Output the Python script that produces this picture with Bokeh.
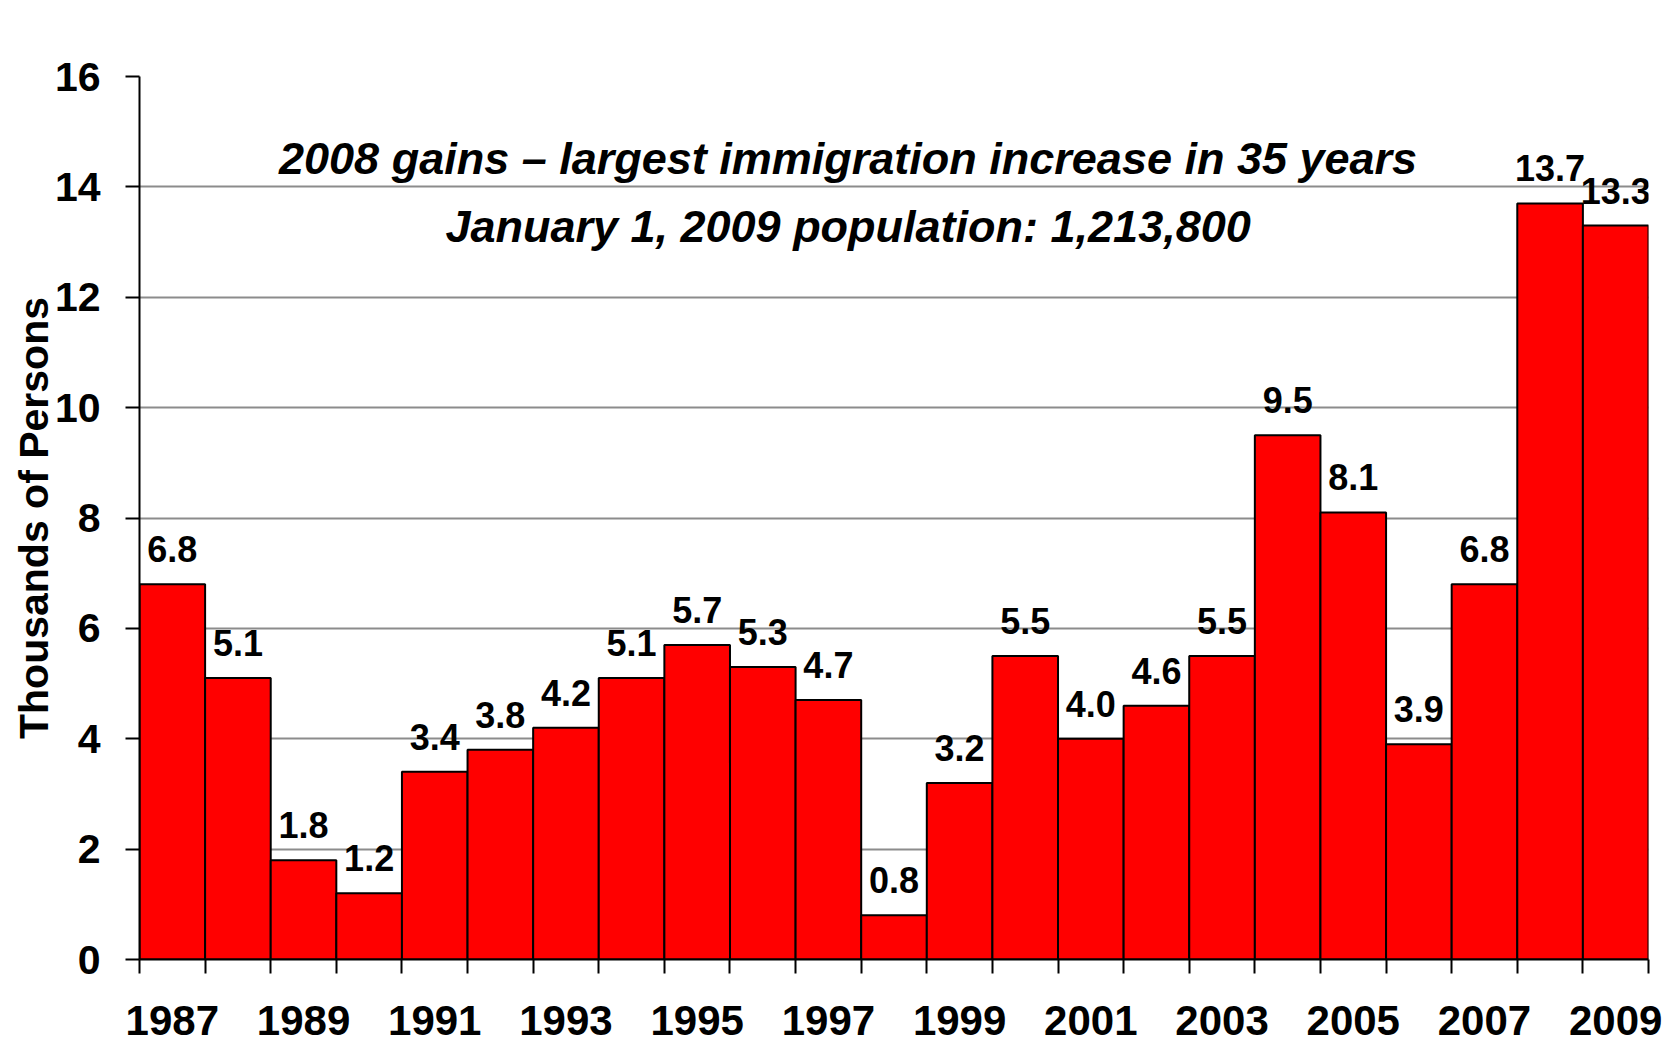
from bokeh.plotting import figure
from bokeh.models import Range1d, FixedTicker, ColumnDataSource, Label
from bokeh.core.properties import value
from bokeh.embed import file_html
from bokeh.resources import INLINE

# ---- data ----
years = [1987, 1988, 1989, 1990, 1991, 1992, 1993, 1994, 1995, 1996, 1997, 1998,
         1999, 2000, 2001, 2002, 2003, 2004, 2005, 2006, 2007, 2008, 2009]
gains = [6.8, 5.1, 1.8, 1.2, 3.4, 3.8, 4.2, 5.1, 5.7, 5.3, 4.7, 0.8,
         3.2, 5.5, 4.0, 4.6, 5.5, 9.5, 8.1, 3.9, 6.8, 13.7, 13.3]
bar_labels = ["6.8", "5.1", "1.8", "1.2", "3.4", "3.8", "4.2", "5.1", "5.7", "5.3", "4.7", "0.8",
              "3.2", "5.5", "4.0", "4.6", "5.5", "9.5", "8.1", "3.9", "6.8", "13.7", "13.3"]
tick_years = [1987, 1989, 1991, 1993, 1995, 1997, 1999, 2001, 2003, 2005, 2007, 2009]
tick_labels = ["1987", "1989", "1991", "1993", "1995", "1997", "1999", "2001", "2003", "2005", "2007", "2009"]
y_ticks = [0, 2, 4, 6, 8, 10, 12, 14, 16]
title_line1 = "2008 gains \u2013 largest immigration increase in 35 years"
title_line2 = "January 1, 2009 population: 1,213,800"
y_title = "Thousands of Persons"

FONT = "Liberation Sans"

# layout (pixels)
W = 1664
LEFT, RIGHT, TOP = 139, 16, 76
MAIN_H, STRIP_H = 990, 55

src = ColumnDataSource(dict(year=years, gain=gains, label=bar_labels))

x_lo = years[0] - 0.5
x_hi = years[-1] + 0.5
boundaries = [y - 0.5 for y in years] + [x_hi]

p = figure(width=W, height=MAIN_H, output_backend="svg", toolbar_location=None,
           x_range=Range1d(x_lo, x_hi), y_range=Range1d(y_ticks[0], y_ticks[-1]),
           min_border_left=LEFT, min_border_right=RIGHT, min_border_top=TOP,
           min_border_bottom=MAIN_H - 959)
p.outline_line_color = None
p.background_fill_color = "white"
p.border_fill_color = "white"

p.vbar(x="year", top="gain", width=1, source=src, fill_color="#FF0000",
       line_color="black", line_width=2)

p.text(x="year", y="gain", text="label", source=src, text_align="center",
       text_baseline="alphabetic", y_offset=-35, text_font=value(FONT),
       text_font_style="bold", text_font_size="36px", text_color="black")

# grid
p.xgrid.visible = False
p.ygrid.ticker = FixedTicker(ticks=y_ticks)
p.ygrid.grid_line_color = "#8c8c8c"
p.ygrid.grid_line_width = 2
p.ygrid.level = "underlay"

# y axis
ya = p.yaxis[0]
ya.ticker = FixedTicker(ticks=y_ticks)
ya.axis_line_color = "black"
ya.axis_line_width = 2
ya.major_tick_line_color = "black"
ya.major_tick_line_width = 2
ya.major_tick_in = 0
ya.major_tick_out = 14
ya.minor_tick_line_color = None
ya.major_label_standoff = 25
ya.major_label_text_font = FONT
ya.major_label_text_font_style = "bold"
ya.major_label_text_font_size = "41px"
ya.major_label_text_color = "black"
ya.axis_label = y_title
ya.axis_label_text_font = FONT
ya.axis_label_text_font_style = "bold"
ya.axis_label_text_font_size = "41px"
ya.axis_label_text_color = "black"
ya.axis_label_standoff = -5

# x axis: tick marks at bar boundaries only
xa = p.xaxis[0]
xa.ticker = FixedTicker(ticks=[], minor_ticks=boundaries)
xa.axis_line_color = "black"
xa.axis_line_width = 2
xa.major_tick_line_color = None
xa.major_tick_in = 0
xa.major_tick_out = 14
xa.minor_tick_line_color = "black"
xa.minor_tick_line_width = 2
xa.minor_tick_in = 0
xa.minor_tick_out = 14
xa.major_label_standoff = 0

# title annotations inside the plot
title_x = 1997.3
for txt, yy in [(title_line1, 14.52), (title_line2, 13.29)]:
    p.add_layout(Label(x=title_x, y=yy, text=txt, text_align="center",
                       text_baseline="alphabetic", text_font=FONT,
                       text_font_style="bold italic", text_font_size="45px",
                       text_color="black"))

# strip with the year labels (separate root below the chart); its frame spans
# the whole width, with the same pixels-per-year scale as the bar frame above
px_per_unit = (W - LEFT - RIGHT) / (x_hi - x_lo)
q = figure(width=W, height=STRIP_H, output_backend="svg", toolbar_location=None,
           x_range=Range1d(x_lo - LEFT / px_per_unit, x_hi + RIGHT / px_per_unit),
           y_range=Range1d(0, 1),
           x_axis_type=None, y_axis_type=None,
           min_border_left=0, min_border_right=0, min_border_top=0, min_border_bottom=0)
q.outline_line_color = None
q.background_fill_color = "white"
q.border_fill_color = "white"
q.xgrid.visible = False
q.ygrid.visible = False
tick_src = ColumnDataSource(dict(x=tick_years, text=tick_labels,
                                 y=[0.45] * len(tick_years)))
q.text(x="x", y="y", text="text", source=tick_src, text_align="center",
       text_baseline="alphabetic", text_font=value(FONT), text_font_style="bold",
       text_font_size="42px", text_color="black")

open("out.html", "w").write(file_html([p, q], INLINE))
